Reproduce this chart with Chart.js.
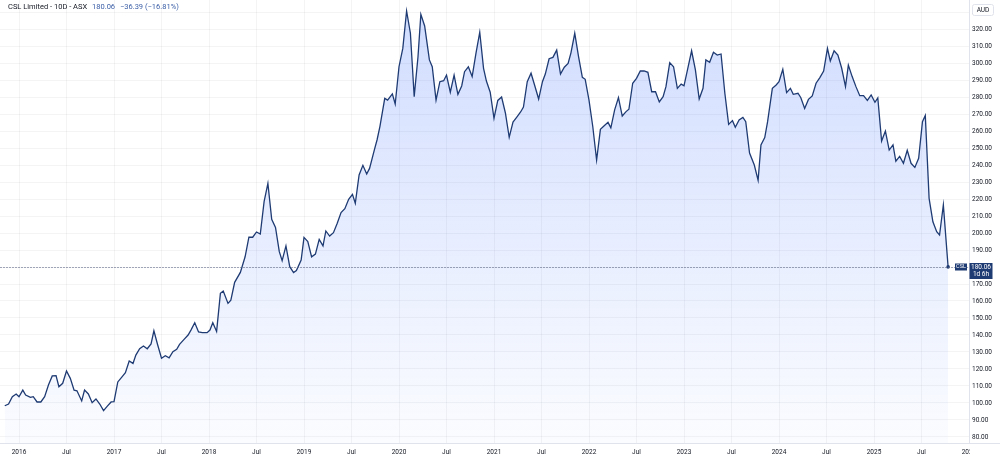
<!DOCTYPE html>
<html>
<head>
<meta charset="utf-8">
<script src="https://cdn.jsdelivr.net/npm/chart.js@4.4.1/dist/chart.umd.min.js"></script>
<style>
  html, body { margin: 0; padding: 0; background: #fff; }
  #wrap { position: relative; width: 1000px; height: 460px; }
  #legend { position: absolute; left: 8px; top: 2px; font: 7.5px Roboto, sans-serif; color: #131722; white-space: nowrap; }
  #legend .val { color: #3b5ea6; margin-left: 3px; }
</style>
</head>
<body>
<div id="wrap">
  <canvas id="chart" width="1000" height="460"></canvas>
  <div id="legend">CSL Limited - 10D - ASX <span class="val">180.06</span> <span class="val">−36.39 (−16.81%)</span></div>
</div>
<script>
// 10-day closes, x in decimal years
const dates = [
  2015.85, 2015.89, 2015.93, 2015.97, 2016.00, 2016.04, 2016.07, 2016.12, 2016.15, 2016.19,
  2016.23, 2016.27, 2016.31, 2016.35, 2016.39, 2016.42, 2016.46, 2016.50, 2016.54, 2016.58,
  2016.61, 2016.66, 2016.69, 2016.73, 2016.77, 2016.81, 2016.85, 2016.89, 2016.93, 2016.97,
  2017.00, 2017.04, 2017.08, 2017.12, 2017.16, 2017.20, 2017.23, 2017.27, 2017.31, 2017.35,
  2017.39, 2017.42, 2017.46, 2017.50, 2017.54, 2017.58, 2017.62, 2017.66, 2017.69, 2017.74,
  2017.78, 2017.81, 2017.85, 2017.89, 2017.93, 2017.98, 2018.01, 2018.04, 2018.08, 2018.12,
  2018.15, 2018.20, 2018.23, 2018.27, 2018.33, 2018.38, 2018.42, 2018.46, 2018.50, 2018.54,
  2018.58, 2018.62, 2018.66, 2018.70, 2018.74, 2018.77, 2018.81, 2018.85, 2018.89, 2018.92,
  2018.97, 2019.00, 2019.04, 2019.08, 2019.12, 2019.16, 2019.20, 2019.23, 2019.27, 2019.31,
  2019.35, 2019.39, 2019.43, 2019.47, 2019.51, 2019.54, 2019.58, 2019.62, 2019.66, 2019.69,
  2019.74, 2019.77, 2019.80, 2019.85, 2019.88, 2019.93, 2019.96, 2020.00, 2020.04, 2020.08,
  2020.12, 2020.16, 2020.20, 2020.23, 2020.27, 2020.32, 2020.35, 2020.39, 2020.43, 2020.47,
  2020.50, 2020.54, 2020.58, 2020.62, 2020.66, 2020.69, 2020.73, 2020.77, 2020.81, 2020.85,
  2020.89, 2020.92, 2020.96, 2021.00, 2021.04, 2021.08, 2021.12, 2021.16, 2021.20, 2021.24,
  2021.28, 2021.31, 2021.35, 2021.39, 2021.43, 2021.47, 2021.51, 2021.54, 2021.58, 2021.62,
  2021.66, 2021.70, 2021.74, 2021.78, 2021.81, 2021.85, 2021.89, 2021.93, 2021.96, 2022.00,
  2022.04, 2022.08, 2022.12, 2022.16, 2022.20, 2022.23, 2022.27, 2022.31, 2022.35, 2022.39,
  2022.42, 2022.46, 2022.50, 2022.54, 2022.58, 2022.62, 2022.66, 2022.70, 2022.74, 2022.78,
  2022.81, 2022.85, 2022.89, 2022.93, 2022.97, 2023.00, 2023.04, 2023.08, 2023.12, 2023.16,
  2023.20, 2023.23, 2023.27, 2023.31, 2023.35, 2023.39, 2023.43, 2023.47, 2023.51, 2023.54,
  2023.58, 2023.62, 2023.65, 2023.69, 2023.74, 2023.78, 2023.81, 2023.85, 2023.88, 2023.93,
  2023.97, 2024.00, 2024.04, 2024.08, 2024.12, 2024.15, 2024.20, 2024.23, 2024.27, 2024.31,
  2024.35, 2024.39, 2024.43, 2024.47, 2024.51, 2024.54, 2024.58, 2024.62, 2024.66, 2024.70,
  2024.73, 2024.77, 2024.81, 2024.85, 2024.89, 2024.93, 2024.97, 2025.01, 2025.04, 2025.08,
  2025.12, 2025.16, 2025.20, 2025.23, 2025.27, 2025.31, 2025.35, 2025.39, 2025.43, 2025.47,
  2025.51, 2025.54, 2025.58, 2025.62, 2025.66, 2025.69, 2025.73, 2025.78
];
const prices = [
  98.4, 99.4, 103.7, 105.3, 103.7, 107.6, 104.7, 103.3, 103.7, 100.6,
  100.6, 103.7, 110.6, 115.9, 116.1, 109.6, 111.6, 118.8, 114.5, 107.6,
  107.2, 101.2, 107.6, 105.3, 100.2, 102.4, 99.4, 95.5, 98.2, 100.6,
  100.8, 112.4, 115.1, 117.8, 124.7, 123.3, 128.2, 131.9, 133.5, 131.9,
  134.7, 142.5, 134.1, 126.3, 127.8, 126.6, 130.2, 131.6, 134.5, 137.6,
  140.0, 142.9, 147.2, 141.8, 141.4, 141.4, 142.9, 147.2, 142.1, 164.5,
  165.9, 158.6, 160.5, 171.0, 176.8, 186.0, 197.5, 197.5, 200.6, 199.4,
  218.4, 229.2, 208.0, 203.3, 189.0, 183.7, 192.4, 180.2, 176.7, 177.9,
  184.1, 197.4, 195.0, 186.0, 187.6, 196.2, 192.4, 201.2, 198.2, 200.2,
  205.7, 212.0, 214.3, 219.8, 222.7, 217.5, 234.1, 239.8, 234.7, 238.0,
  248.8, 255.0, 262.9, 279.2, 278.2, 281.8, 275.9, 297.8, 308.6, 330.6,
  317.5, 280.2, 303.7, 328.6, 321.8, 301.8, 297.8, 278.2, 289.0, 289.6,
  292.9, 282.8, 292.9, 281.6, 286.5, 294.9, 297.8, 292.0, 305.7, 318.1,
  296.9, 289.4, 282.8, 267.5, 278.0, 280.0, 270.6, 256.3, 265.3, 268.2,
  271.2, 274.1, 289.0, 294.0, 286.5, 278.8, 289.0, 293.5, 302.5, 303.3,
  307.6, 293.5, 297.5, 299.8, 306.0, 317.5, 303.7, 291.6, 290.4, 278.2,
  262.5, 242.9, 261.0, 263.1, 265.1, 261.9, 272.4, 279.6, 268.8, 271.4,
  272.8, 288.1, 291.0, 295.3, 295.3, 294.5, 283.1, 283.1, 277.1, 280.2,
  286.1, 300.2, 297.8, 285.1, 287.6, 286.6, 296.9, 307.2, 295.9, 278.8,
  285.1, 301.8, 300.4, 306.3, 304.7, 305.3, 282.2, 263.9, 266.1, 262.2,
  266.5, 268.0, 265.5, 247.0, 240.0, 231.0, 251.8, 256.1, 265.5, 285.1,
  287.1, 289.0, 296.3, 282.6, 285.1, 281.6, 282.2, 279.6, 273.3, 278.6,
  280.6, 288.1, 291.4, 295.3, 308.6, 301.2, 307.2, 304.7, 296.9, 286.1,
  298.8, 292.0, 286.1, 280.8, 280.8, 278.0, 281.2, 276.9, 279.5, 254.1,
  260.0, 248.8, 251.8, 242.2, 245.1, 241.0, 248.6, 241.0, 238.6, 243.9,
  265.5, 269.1, 220.4, 206.6, 200.8, 198.8, 216.5, 180.06
];
const xTickLabels = [
  '2016', 'Jul', '2017', 'Jul', '2018', 'Jul', '2019', 'Jul', '2020', 'Jul',
  '2021', 'Jul', '2022', 'Jul', '2023', 'Jul', '2024', 'Jul', '2025', 'Jul', '2026'
];
const symbol = 'CSL';
const currency = 'AUD';
const countdown = '1d 6h';

const lastPrice = prices[prices.length - 1];
const navy = '#1f3b73';
const tickFont = { family: 'Roboto', size: 6.5 };

// price line, last-price tags and the currency box
const overlay = {
  id: 'overlay',
  afterDatasetsDraw(chart) {
    const { ctx, chartArea, scales: { x, y } } = chart;
    const py = Math.round(y.getPixelForValue(lastPrice)) + 0.5;
    ctx.save();
    ctx.strokeStyle = 'rgba(90,100,130,0.55)';
    ctx.lineWidth = 1;
    ctx.setLineDash([2, 1]);
    ctx.beginPath();
    ctx.moveTo(chartArea.left, py);
    ctx.lineTo(chartArea.right, py);
    ctx.stroke();
    ctx.restore();
    // the last year label runs under the price scale
    ctx.fillStyle = '#fff';
    ctx.fillRect(chartArea.right + 1, x.top + 1, chart.width - chartArea.right, x.bottom - x.top);
  },
  afterDraw(chart) {
    const { ctx, chartArea, scales: { x, y } } = chart;
    const py = Math.round(y.getPixelForValue(lastPrice));
    const r = chartArea.right;
    ctx.save();
    ctx.strokeStyle = '#e0e3eb';
    ctx.lineWidth = 1;
    ctx.beginPath();
    ctx.moveTo(r, x.top + 0.5);
    ctx.lineTo(chart.width, x.top + 0.5);
    ctx.stroke();

    ctx.fillStyle = navy;
    ctx.fillRect(r - 14, py - 3.5, 12, 7);
    ctx.fillRect(r + 0.5, py - 4, 23, 16);
    ctx.fillStyle = '#fff';
    ctx.textAlign = 'center';
    ctx.textBaseline = 'middle';
    ctx.font = '5.5px Roboto';
    ctx.fillText(symbol, r - 8, py);
    ctx.font = '6.5px Roboto';
    ctx.fillText(lastPrice.toFixed(2), r + 12, py);
    ctx.fillText(countdown, r + 12, py + 7);

    ctx.fillStyle = '#fff';
    ctx.beginPath();
    ctx.roundRect(r + 3.5, 4.5, 21, 11, 2);
    ctx.fill();
    ctx.stroke();
    ctx.fillStyle = '#131722';
    ctx.fillText(currency, r + 14, 10);
    ctx.restore();
  }
};

new Chart(document.getElementById('chart'), {
  type: 'line',
  data: {
    datasets: [{
      data: dates.map((d, i) => ({ x: d, y: prices[i] })),
      borderColor: navy,
      borderWidth: 1.3,
      tension: 0,
      pointRadius: ctx => ctx.dataIndex === prices.length - 1 ? 1.8 : 0,
      pointBackgroundColor: navy,
      pointBorderWidth: 0,
      fill: 'start',
      backgroundColor: ctx => {
        const area = ctx.chart.chartArea;
        if (!area) return 'rgba(41,98,255,0.1)';
        const g = ctx.chart.ctx.createLinearGradient(0, area.top, 0, area.bottom);
        g.addColorStop(0, 'rgba(41,98,255,0.22)');
        g.addColorStop(1, 'rgba(41,98,255,0.02)');
        return g;
      }
    }]
  },
  options: {
    responsive: false,
    animation: false,
    layout: { padding: 0, autoPadding: false },
    plugins: { legend: { display: false }, tooltip: { enabled: false } },
    scales: {
      x: {
        type: 'linear',
        min: 2015.8,
        max: 2026,
        afterFit: s => { s.height = 17; s.paddingLeft = 0; s.paddingRight = 0; },
        ticks: {
          stepSize: 0.5,
          includeBounds: false,
          autoSkip: false,
          maxRotation: 0,
          padding: 5,
          color: '#131722',
          font: tickFont,
          callback: (v, i) => xTickLabels[i]
        },
        grid: { color: 'rgba(42,46,57,0.05)', drawTicks: false },
        border: { color: '#e0e3eb' }
      },
      y: {
        position: 'right',
        min: 76.47,
        max: 337.06,
        afterFit: s => { s.width = 31; s.paddingTop = 0; s.paddingBottom = 0; },
        ticks: {
          stepSize: 10,
          includeBounds: false,
          padding: 3,
          color: '#131722',
          font: tickFont,
          callback: v => v.toFixed(2)
        },
        grid: { color: 'rgba(42,46,57,0.05)', drawTicks: false },
        border: { color: '#e0e3eb' }
      }
    }
  },
  plugins: [overlay]
});
</script>
</body>
</html>
